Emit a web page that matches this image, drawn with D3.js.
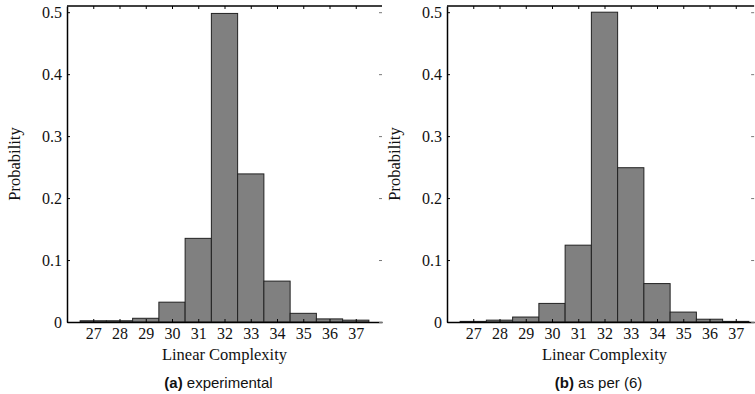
<!DOCTYPE html>
<html>
<head>
<meta charset="utf-8">
<script src="https://cdn.jsdelivr.net/npm/d3@7"></script>
<style>
  body { margin: 0; background: #fff; }
  svg { display: block; }
</style>
</head>
<body>
<svg width="755" height="394"></svg>
<script>
// complexity values on the x axis
const complexity = [27, 28, 29, 30, 31, 32, 33, 34, 35, 36, 37];

// probabilities
const experimental = [0.002, 0.002, 0.006, 0.032, 0.135, 0.498, 0.239, 0.066, 0.014, 0.005, 0.003];
const asPer6 = [0.001, 0.003, 0.008, 0.030, 0.124, 0.500, 0.249, 0.062, 0.016, 0.0045, 0.001];

const yTicks = [0, 0.1, 0.2, 0.3, 0.4, 0.5];
const captionsBold = ['(a)', '(b)'];
const captionsText = [' experimental', ' as per (6)'];

const serif = '"Liberation Serif", "Times New Roman", serif';
const sans = '"Liberation Sans", Arial, sans-serif';

const svg = d3.select('svg');
const innerHeight = 316;
// panel (b) is cropped at the right edge of the figure
const panels = [
	{ left: 67, top: 6, xMax: 38, values: experimental },
	{ left: 447, top: 6, xMax: 37.7, values: asPer6 },
];
const unit = 26.25;

const y = d3.scaleLinear().domain([0, 0.51]).range([innerHeight, 0]);

const fmt = (d) => (d === 0 ? '0' : d3.format('.1f')(d));

panels.forEach((p, i) => {
	const innerWidth = (p.xMax - 26) * unit;
	const x = d3.scaleLinear().domain([26, p.xMax]).range([0, innerWidth]);
	const g = svg.append('g').attr('transform', `translate(${p.left},${p.top})`);

	// bars
	g.selectAll('rect')
		.data(complexity.map((c, j) => ({ c, v: p.values[j] })))
		.enter()
		.append('rect')
		.attr('x', (d) => x(d.c - 0.5))
		.attr('width', x(27) - x(26))
		.attr('y', (d) => y(d.v))
		.attr('height', (d) => y(0) - y(d.v))
		.attr('fill', '#808080')
		.attr('stroke', '#222')
		.attr('stroke-width', 1);

	// left axis
	const left = g.append('g')
		.call(d3.axisLeft(y).tickValues(yTicks).tickFormat(fmt).tickSizeInner(-3).tickSizeOuter(0).tickPadding(5))
		.attr('font-family', serif)
		.attr('font-size', 16);
	left.select('.domain').attr('stroke-width', 1.5);
	left.selectAll('text').attr('fill', '#111');

	// bottom axis
	const bottom = g.append('g')
		.attr('transform', `translate(0,${innerHeight})`)
		.call(d3.axisBottom(x).tickValues(complexity).tickFormat(d3.format('d')).tickSizeInner(-3).tickSizeOuter(0).tickPadding(6))
		.attr('font-family', serif)
		.attr('font-size', 16);
	bottom.select('.domain').attr('stroke-width', 1.5);
	bottom.selectAll('text').attr('fill', '#111');

	// top frame line with ticks
	g.append('line')
		.attr('x1', 0).attr('x2', innerWidth)
		.attr('y1', 0).attr('y2', 0)
		.attr('stroke', '#000').attr('stroke-width', 1.5);
	g.selectAll('.top-tick')
		.data(complexity)
		.enter()
		.append('line')
		.attr('class', 'top-tick')
		.attr('x1', (d) => x(d) + 0.5).attr('x2', (d) => x(d) + 0.5)
		.attr('y1', 0).attr('y2', 3)
		.attr('stroke', '#000');

	// right side: ticks only, no line
	g.selectAll('.right-tick')
		.data(yTicks)
		.enter()
		.append('line')
		.attr('class', 'right-tick')
		.attr('x1', innerWidth - 3).attr('x2', innerWidth)
		.attr('y1', (d) => y(d) + 0.5).attr('y2', (d) => y(d) + 0.5)
		.attr('stroke', '#777');

	// axis labels
	g.append('text')
		.attr('x', x(32))
		.attr('y', innerHeight + 38)
		.attr('text-anchor', 'middle')
		.attr('font-family', serif)
		.attr('font-size', 16.5)
		.attr('fill', '#111')
		.text('Linear Complexity');

	g.append('text')
		.attr('transform', `translate(-47,${y(0.255)}) rotate(-90)`)
		.attr('text-anchor', 'middle')
		.attr('font-family', serif)
		.attr('font-size', 16.5)
		.attr('fill', '#111')
		.text('Probability');

	// caption
	const cap = g.append('text')
		.attr('x', x(32) - 6)
		.attr('y', innerHeight + 66)
		.attr('text-anchor', 'middle')
		.attr('font-family', sans)
		.attr('font-size', 15)
		.attr('fill', '#111');
	cap.append('tspan').attr('font-weight', 'bold').text(captionsBold[i]);
	cap.append('tspan').text(captionsText[i]);
});
</script>
</body>
</html>
